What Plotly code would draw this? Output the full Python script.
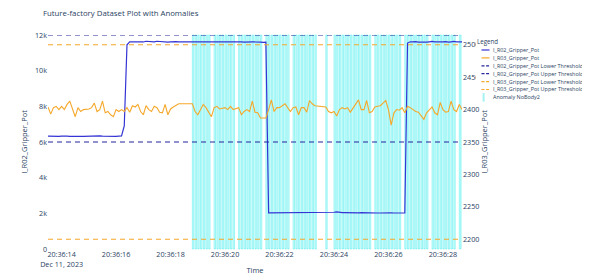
import numpy as np
import pandas as pd
import plotly.graph_objects as go

# ---------------- data ----------------
start_time = pd.Timestamp("2023-12-11 20:36:13.5")
n_samples = 153
missing_idx = [49, 50, 51, 52, 99, 100, 101]

all_times = pd.date_range(start_time, periods=n_samples, freq="100ms")
sample_idx = [i for i in range(n_samples) if i not in missing_idx]
times = all_times[sample_idx]

r02_values = [
    # i0-27
    6330, 6320, 6340, 6330, 6310, 6330, 6350, 6330, 6320, 6330, 6340, 6330, 6320, 6310,
    6320, 6330, 6330, 6320, 6330, 6340, 6330, 6320, 6330, 6320, 6310, 6320, 6330, 6340,
    # i28-48
    6900, 11450,
    11620, 11610, 11630, 11620, 11600, 11610, 11650, 11640, 11600, 11620, 11650, 11630,
    11610, 11620, 11600, 11610, 11640, 11630, 11620,
    # i53-80
    11620, 11630, 11640, 11620, 11610, 11630, 11620, 11650, 11640, 11620, 11610, 11620,
    11630, 11620, 11610, 11640, 11630, 11620, 11610, 11600, 11620, 11630, 11620, 11610,
    11620, 11600, 11590, 11600,
    # i81-98
    2030, 2030, 2040, 2030, 2030, 2020, 2030, 2040, 2030, 2030, 2030, 2040, 2030, 2030,
    2030, 2040, 2030, 2030,
    # i102-131
    2030, 2030, 2040, 2060, 2080, 2050, 2040, 2040, 2030, 2040, 2030, 2040, 2030, 2040,
    2030, 2040, 2030, 2030, 2020, 2020, 2020, 2030, 2020, 2020, 2030, 2020, 2020, 2020,
    2030, 2020,
    # i132-152
    11550, 11620, 11610, 11630, 11600, 11590, 11610, 11600, 11620, 11640, 11610, 11600,
    11620, 11610, 11630, 11600, 11620, 11640, 11610, 11600, 11620,
]

r03_values = [
    # i0-48
    2404, 2393, 2403, 2405, 2400, 2405, 2400, 2408, 2413, 2400, 2389, 2403, 2397, 2400,
    2400, 2401, 2403, 2410, 2397, 2400, 2413, 2395, 2397, 2392, 2389, 2400, 2397, 2400,
    2397, 2403, 2396, 2406, 2404, 2408, 2397, 2392, 2406, 2400, 2397, 2405, 2403, 2396,
    2395, 2408, 2392, 2401, 2404, 2406, 2409,
    # i53-98
    2409, 2397, 2392, 2400, 2408, 2403, 2396, 2389, 2403, 2405, 2401, 2402, 2403, 2400,
    2405, 2400, 2402, 2403, 2392, 2397, 2400, 2397, 2413, 2396, 2395, 2387, 2387, 2387,
    2400, 2415, 2397, 2403, 2403, 2406, 2409, 2403, 2397, 2403, 2404, 2392, 2403, 2403,
    2396, 2414, 2409, 2406,
    # i102-131
    2404, 2397, 2395, 2397, 2390, 2400, 2403, 2401, 2403, 2396, 2403, 2410, 2415, 2400,
    2400, 2414, 2395, 2397, 2404, 2405, 2406, 2410, 2414, 2400, 2376, 2395, 2400, 2399,
    2403, 2395,
    # i132-152
    2405, 2403, 2400, 2397, 2396, 2391, 2385, 2395, 2400, 2404, 2395, 2392, 2411, 2400,
    2396, 2397, 2413, 2400, 2397, 2408, 2400,
]

r02_lower, r02_upper = 6000, 12000
r03_lower, r03_upper = 2200, 2500

no_anomaly_idx = [60, 69, 79, 89, 103, 104, 119, 130, 140, 150]
anomaly_idx = [i for i in range(53, n_samples) if i not in missing_idx and i not in no_anomaly_idx]
anomaly_times = all_times[anomaly_idx]
anomaly_width = pd.Timedelta(milliseconds=50)

y1_range = [0, 12000]
y2_range = [2185, 2515]
x_range = [times[0], times[-1]]

# series styling (also used for the legend)
R02_COLOR = "#3434d4"
R02_TH_COLOR = "#25259c"
R03_COLOR = "#f5a82a"
DASH = "5px,4px"

legend_entries = [
    ("I_R02_Gripper_Pot", R02_COLOR, "solid"),
    ("I_R03_Gripper_Pot", R03_COLOR, "solid"),
    ("I_R02_Gripper_Pot Lower Threshold", R02_TH_COLOR, "dash"),
    ("I_R02_Gripper_Pot Upper Threshold", R02_TH_COLOR, "dash"),
    ("I_R03_Gripper_Pot Lower Threshold", R03_COLOR, "dash"),
    ("I_R03_Gripper_Pot Upper Threshold", R03_COLOR, "dash"),
    ("Anomaly NoBody2", "#a4f2f2", "bar"),
]

# ---------------- figure geometry ----------------
W, H = 590, 276
PAGE = 8  # the page body offsets the figure by 8px
M = dict(l=40, r=136, t=27, b=35)
plot_w = W - M["l"] - M["r"]
plot_h = H - M["t"] - M["b"]


def px_x(sx):
    return (sx - PAGE - M["l"]) / plot_w


def px_y(sy):
    return (H - M["b"] - (sy - PAGE)) / plot_h


fig = go.Figure()

fig.add_trace(go.Scatter(x=times, y=r02_values, name=legend_entries[0][0], mode="lines",
                         line=dict(color=R02_COLOR, width=1.2), yaxis="y"))
fig.add_trace(go.Scatter(x=times, y=r03_values, name=legend_entries[1][0], mode="lines",
                         line=dict(color=R03_COLOR, width=1.1), yaxis="y2"))
for (name, color, _), level, axis in [
    (legend_entries[2], r02_lower, "y"), (legend_entries[3], r02_upper, "y"),
    (legend_entries[4], r03_lower, "y2"), (legend_entries[5], r03_upper, "y2"),
]:
    fig.add_trace(go.Scatter(x=x_range, y=[level, level], mode="lines", name=name,
                             line=dict(color=color, width=1.1, dash=DASH), yaxis=axis))

# anomaly markers: one narrow band per anomalous timestamp
for t in anomaly_times:
    fig.add_vrect(x0=t, x1=t + anomaly_width, fillcolor="rgba(0,255,255,0.14)",
                  line=dict(color="rgba(0,225,225,0.5)", width=0.7), layer="below")

# ---- compact legend box (paper coordinates) ----
fig.add_shape(type="rect", xref="paper", yref="paper", x0=px_x(476), x1=px_x(598),
              y0=px_y(104), y1=px_y(36), fillcolor="white", line=dict(width=0),
              layer="above")
fig.add_annotation(text="Legend", xref="paper", yref="paper", x=px_x(475.5), y=px_y(41.7),
                   xanchor="left", yanchor="middle", showarrow=False,
                   font=dict(size=6.2, color="#2a3f5f"))
row_y0, row_dy = 50.0, 7.9
for k, (name, color, style) in enumerate(legend_entries):
    ry = row_y0 + k * row_dy
    if style == "bar":
        fig.add_shape(type="rect", xref="paper", yref="paper", x0=px_x(482.6), x1=px_x(484.6),
                      y0=px_y(ry + 4.3), y1=px_y(ry - 4.3), fillcolor=color,
                      line=dict(width=0), layer="above")
    else:
        fig.add_shape(type="line", xref="paper", yref="paper", x0=px_x(481.5), x1=px_x(489.5),
                      y0=px_y(ry), y1=px_y(ry),
                      line=dict(color=color, width=1.2,
                                dash="solid" if style == "solid" else "3px,1.6px"),
                      layer="above")
    fig.add_annotation(text=name, xref="paper", yref="paper", x=px_x(490.8), y=px_y(ry),
                       xanchor="left", yanchor="middle", showarrow=False,
                       font=dict(size=5.45, color="#2a3f5f"))

fig.update_layout(
    width=W, height=H,
    template="plotly_white",
    showlegend=False,
    font=dict(family="Open Sans, sans-serif", size=7.2, color="#2a3f5f"),
    title=dict(text="Future-factory Dataset Plot with Anomalies", x=(43 - PAGE) / W,
               xanchor="left", y=1 - (13 - PAGE) / H, yanchor="middle",
               font=dict(size=7.8, color="#2a3f5f")),
    margin=dict(**M, autoexpand=False),
    xaxis=dict(title=dict(text="Time", font=dict(size=7.5), standoff=0), type="date",
               range=x_range, dtick=2000, tick0="2023-12-11 20:36:14", automargin=False,
               showgrid=False, zeroline=False, tickfont=dict(size=7.2)),
    yaxis=dict(title=dict(text="I_R02_Gripper_Pot", font=dict(size=7.5), standoff=6),
               range=y1_range, dtick=2000, showgrid=False, zeroline=False, automargin=False,
               tickfont=dict(size=7.2)),
    yaxis2=dict(title=dict(text="I_R03_Gripper_Pot", font=dict(size=7.5), standoff=3),
                range=y2_range, dtick=50, overlaying="y", side="right", automargin=False,
                showgrid=False, zeroline=False, tickfont=dict(size=7.2)),
)

fig.write_html("out.html")
